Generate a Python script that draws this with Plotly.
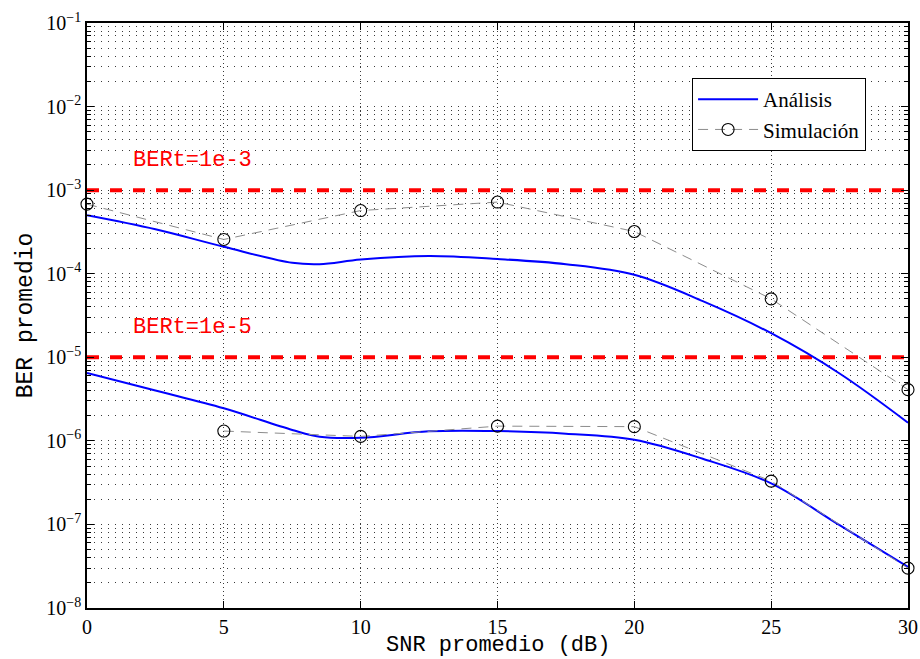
import plotly.graph_objects as go

# Analysis curves (smooth)
snr_ana = [0, 2.5, 5, 7.5, 8.5, 10, 12.5, 15, 17.5, 20, 22.5, 25, 27.5, 30]
ber_ana_hi = [5.0e-4, 3.4e-4, 2.1e-4, 1.35e-4, 1.3e-4, 1.48e-4, 1.63e-4, 1.5e-4, 1.3e-4, 9.7e-5, 4.7e-5, 1.94e-5, 6.4e-6, 1.65e-6]
ber_ana_lo = [6.5e-6, 4.0e-6, 2.45e-6, 1.35e-6, 1.12e-6, 1.09e-6, 1.3e-6, 1.31e-6, 1.22e-6, 1.03e-6, 6.1e-7, 3.1e-7, 9.8e-8, 3.1e-8]

# Simulation points
snr_sim_hi = [0, 5, 10, 15, 20, 25, 30]
ber_sim_hi = [6.8e-4, 2.57e-4, 5.7e-4, 7.2e-4, 3.2e-4, 5.0e-5, 4.1e-6]
snr_sim_lo = [5, 10, 15, 20, 25, 30]
ber_sim_lo = [1.31e-6, 1.13e-6, 1.5e-6, 1.48e-6, 3.3e-7, 3.0e-8]

# Thresholds
thresholds = [1e-3, 1e-5]
threshold_exps = [-3, -5]
threshold_labels = ["BERt=1e-3", "BERt=1e-5"]

x_ticks = [0, 5, 10, 15, 20, 25, 30]
y_exps = [-8, -7, -6, -5, -4, -3, -2, -1]
y_tickvals = [10.0 ** e for e in y_exps]
y_ticktext = ["10<sup>\u2212%d</sup>" % (-e) for e in y_exps]

x_title = "SNR promedio (dB)"
y_title = "BER promedio"

GRID_COLOR = "#3a3a3a"

fig = go.Figure()

for th in thresholds:
    fig.add_trace(go.Scatter(x=[0, 30], y=[th, th], mode="lines",
                             line=dict(color="#ff0000", width=4, dash="12px,11px"),
                             showlegend=False, hoverinfo="skip"))

fig.add_trace(go.Scatter(x=snr_ana, y=ber_ana_hi, mode="lines",
                         line=dict(color="#0000ff", width=2, shape="spline", smoothing=1.0),
                         name="Análisis"))
fig.add_trace(go.Scatter(x=snr_ana, y=ber_ana_lo, mode="lines",
                         line=dict(color="#0000ff", width=2, shape="spline", smoothing=1.0),
                         showlegend=False))
fig.add_trace(go.Scatter(x=snr_sim_hi, y=ber_sim_hi, mode="lines+markers",
                         line=dict(color="#8c8c8c", width=1, dash="10px,7px"),
                         marker=dict(symbol="circle-open", size=12, color="black",
                                     line=dict(width=1.1, color="black")),
                         cliponaxis=False, name="Simulación"))
fig.add_trace(go.Scatter(x=snr_sim_lo, y=ber_sim_lo, mode="lines+markers",
                         line=dict(color="#8c8c8c", width=1, dash="10px,7px"),
                         marker=dict(symbol="circle-open", size=12, color="black",
                                     line=dict(width=1.1, color="black")),
                         cliponaxis=False, showlegend=False))

for te, lab in zip(threshold_exps, threshold_labels):
    fig.add_annotation(x=1.6, y=te, xref="x", yref="y", text=lab, showarrow=False,
                       xanchor="left", yanchor="middle", yshift=30,
                       font=dict(family="Liberation Mono", size=22, color="#ff0000"))

# x-axis title placed just below the tick labels
fig.add_annotation(x=0.5, y=0, xref="paper", yref="paper", text=x_title,
                   showarrow=False, xanchor="center", yanchor="middle", yshift=-37,
                   borderpad=0,
                   font=dict(family="Liberation Mono", size=22, color="black"))

fig.update_xaxes(range=[0, 30], tickvals=x_ticks, ticks="inside", ticklen=7,
                 tickcolor="black", showline=True, linecolor="black", linewidth=1.5,
                 mirror="ticks", zeroline=False, automargin=False,
                 showgrid=True, gridcolor=GRID_COLOR, griddash="1px,3px", gridwidth=1,
                 tickfont=dict(family="Liberation Serif", size=20, color="black"))
fig.update_yaxes(type="log", range=[-8, -1], tickvals=y_tickvals, ticktext=y_ticktext,
                 ticks="inside", ticklen=7, tickcolor="black", showline=True,
                 linecolor="black", linewidth=1.5, mirror="ticks", automargin=False,
                 showgrid=True, gridcolor=GRID_COLOR, griddash="1px,6px", gridwidth=1,
                 tickfont=dict(family="Liberation Serif", size=20, color="black"),
                 title=dict(text=y_title, standoff=7,
                            font=dict(family="Liberation Mono", size=23, color="black")),
                 minor=dict(dtick="D1", showgrid=True, gridcolor=GRID_COLOR,
                            griddash="1px,6px", gridwidth=1, ticks="inside", ticklen=4,
                            tickcolor="black"))

fig.update_layout(
    width=920, height=659,
    margin=dict(l=87, r=12, t=23, b=51),
    paper_bgcolor="white", plot_bgcolor="white",
    legend=dict(x=0.737, y=0.906, xanchor="left", yanchor="top",
                bgcolor="white", bordercolor="black", borderwidth=1,
                font=dict(family="Liberation Serif", size=21, color="black"),
                tracegroupgap=0, itemwidth=60),
)

fig.write_html("out.html", config={"displayModeBar": False},
               post_script="document.body.style.margin='0';document.body.style.overflow='hidden';")
